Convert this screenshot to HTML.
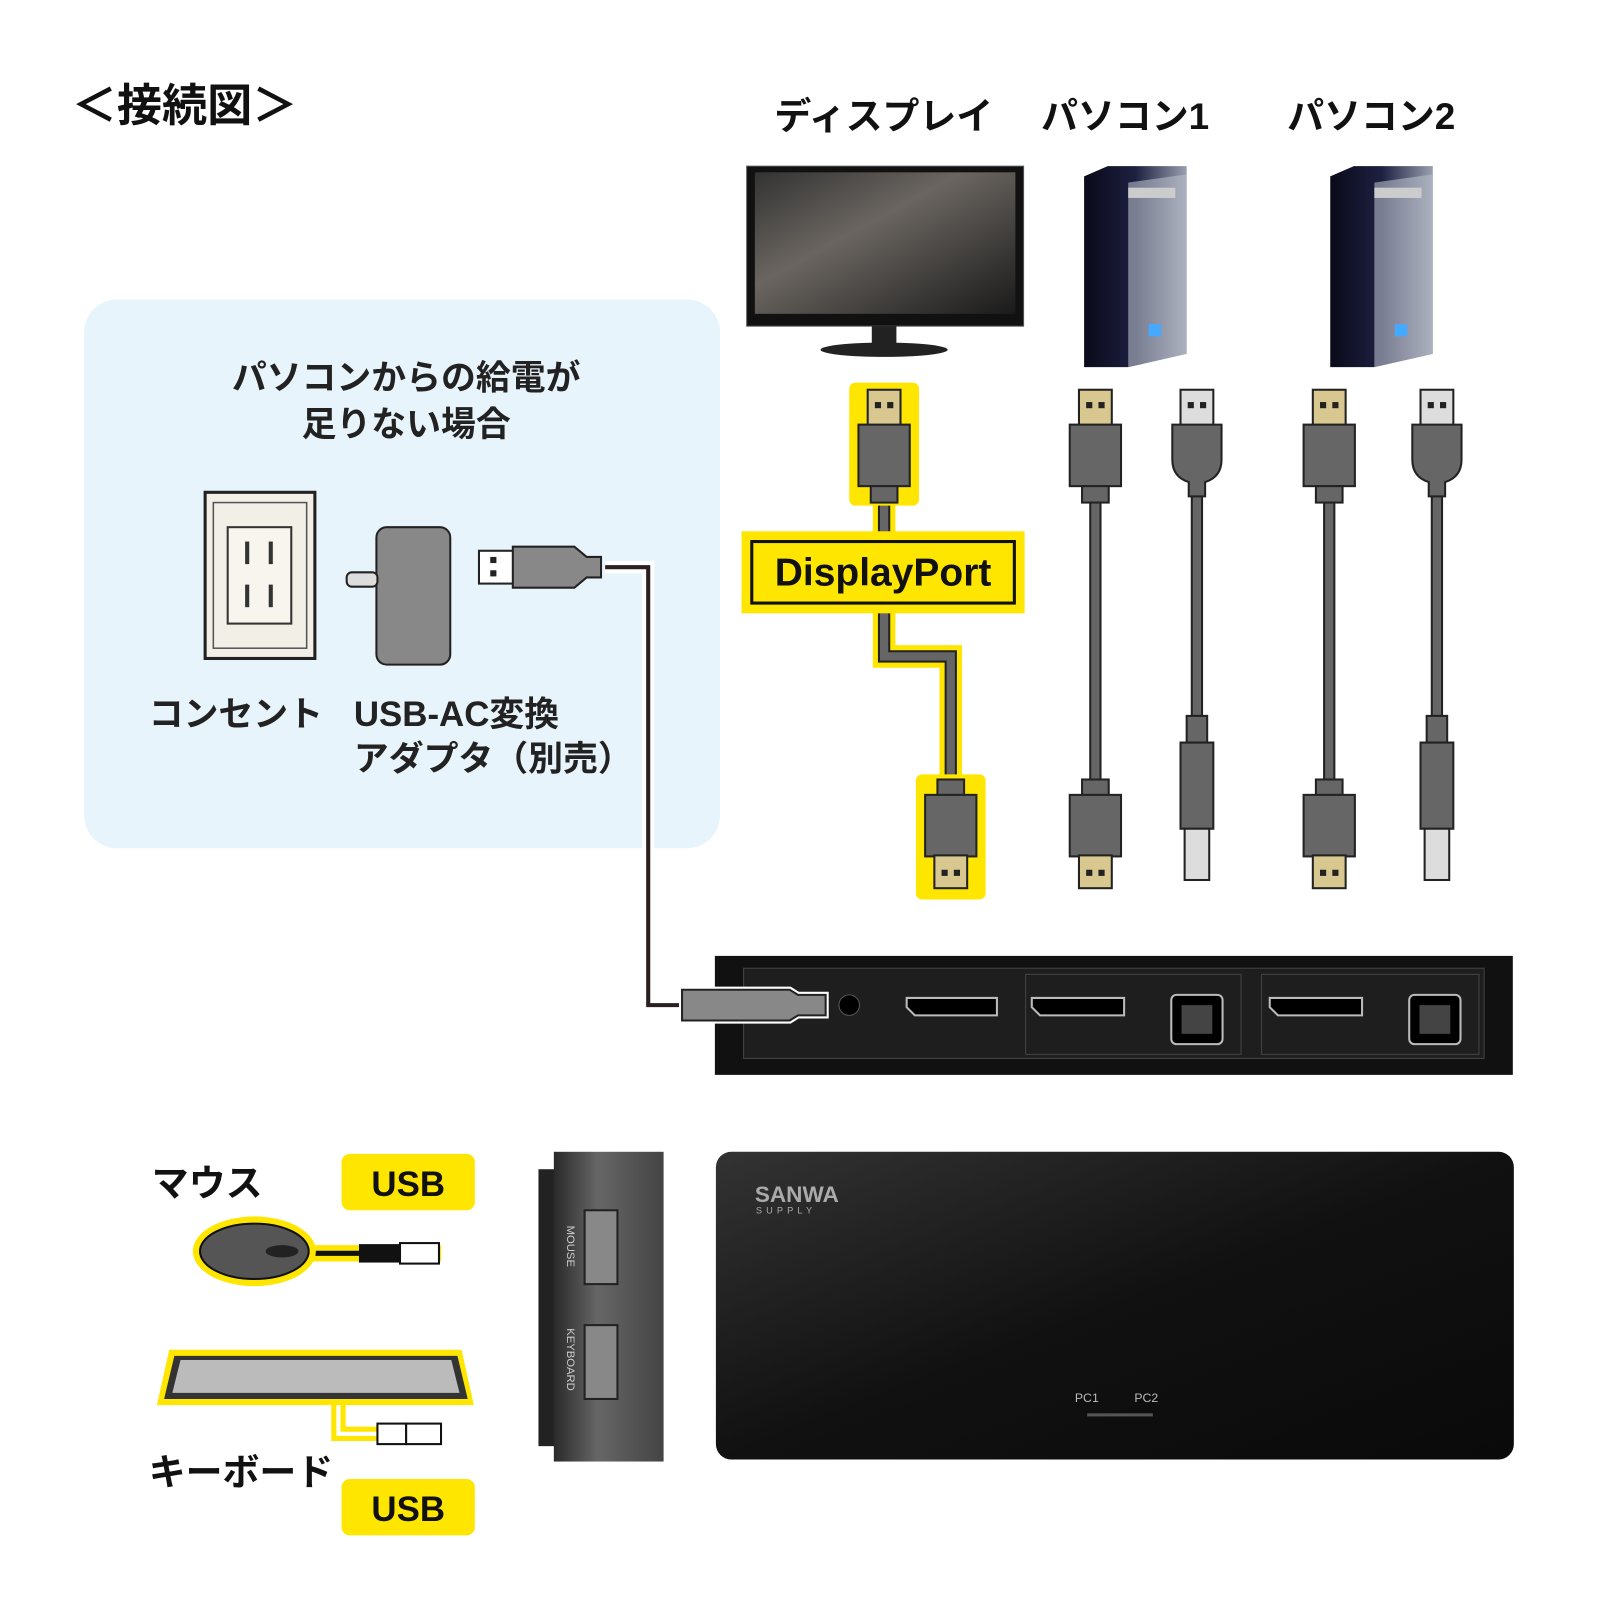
<!DOCTYPE html>
<html><head><meta charset="utf-8"><style>
html,body{margin:0;padding:0;background:#fff;width:1600px;height:1600px;overflow:hidden}
svg{display:block}
text{font-family:"Liberation Sans","Noto Sans CJK JP",sans-serif}
</style></head><body>
<svg width="1600" height="1600" viewBox="0 0 1560 1560" xmlns="http://www.w3.org/2000/svg">
<defs>
<linearGradient id="scr" x1="0" y1="0" x2="1" y2="1"><stop offset="0" stop-color="#333"/><stop offset="0.4" stop-color="#6a6560"/><stop offset="1" stop-color="#1a1a1a"/></linearGradient>
<linearGradient id="pc" x1="0" y1="0" x2="1" y2="0"><stop offset="0" stop-color="#0a0a1a"/><stop offset="0.5" stop-color="#1d2040"/><stop offset="1" stop-color="#9aa0b0"/></linearGradient>
<linearGradient id="top" x1="0" y1="0" x2="1" y2="1"><stop offset="0" stop-color="#333"/><stop offset="0.5" stop-color="#111"/><stop offset="1" stop-color="#0a0a0a"/></linearGradient>
<linearGradient id="side" x1="0" y1="0" x2="1" y2="0"><stop offset="0" stop-color="#2a2a2a"/><stop offset="0.4" stop-color="#666"/><stop offset="1" stop-color="#444"/></linearGradient>
<g id="dpTop"><rect x="-16" y="0" width="32" height="36" fill="#d8c890" stroke="#222" stroke-width="2"/><rect x="-9" y="12" width="6" height="6" fill="#222"/><rect x="3" y="12" width="6" height="6" fill="#222"/><rect x="-25" y="34" width="50" height="60" fill="#666" stroke="#222" stroke-width="2"/><rect x="-13" y="94" width="26" height="16" fill="#666" stroke="#222" stroke-width="2"/></g>
<g id="dpBot"><rect x="-13" y="0" width="26" height="16" fill="#666" stroke="#222" stroke-width="2"/><rect x="-25" y="15" width="50" height="60" fill="#666" stroke="#222" stroke-width="2"/><rect x="-16" y="74" width="32" height="32" fill="#d8c890" stroke="#222" stroke-width="2"/><rect x="-9" y="88" width="6" height="6" fill="#222"/><rect x="3" y="88" width="6" height="6" fill="#222"/></g>
<g id="usbTop"><rect x="-16" y="0" width="32" height="36" fill="#ddd" stroke="#222" stroke-width="2"/><rect x="-9" y="12" width="6" height="6" fill="#222"/><rect x="3" y="12" width="6" height="6" fill="#222"/><path d="M-24 34 H24 V68 Q24 85 8 90 V104 H-8 V90 Q-24 85 -24 68Z" fill="#666" stroke="#222" stroke-width="2"/></g>
<g id="usbBot"><rect x="-10" y="0" width="20" height="26" fill="#666" stroke="#222" stroke-width="2"/><path d="M-16 26 H16 V110 H-16Z" fill="#666" stroke="#222" stroke-width="2"/><rect x="-12" y="110" width="24" height="50" fill="#ddd" stroke="#222" stroke-width="2"/></g>
</defs>

<text x="70" y="118" font-size="44" font-weight="bold" fill="#111">＜接続図＞</text>

<rect x="82" y="292" width="620" height="535" rx="32" fill="#e8f4fb"/>
<text x="396" y="380" font-size="34" font-weight="bold" text-anchor="middle" fill="#222">パソコンからの給電が</text>
<text x="396" y="425" font-size="34" font-weight="bold" text-anchor="middle" fill="#222">足りない場合</text>
<rect x="200" y="480" width="107" height="162" fill="#f2efe6" stroke="#222" stroke-width="3"/>
<rect x="208" y="490" width="91" height="142" fill="none" stroke="#555" stroke-width="1.5"/>
<rect x="222" y="514" width="62" height="94" fill="#f7f5ee" stroke="#333" stroke-width="2"/>
<rect x="239" y="528" width="4" height="22" fill="#333"/><rect x="262" y="528" width="4" height="22" fill="#333"/>
<rect x="239" y="570" width="4" height="22" fill="#333"/><rect x="262" y="570" width="4" height="22" fill="#333"/>
<rect x="367" y="514" width="72" height="134" rx="10" fill="#888" stroke="#222" stroke-width="2"/>
<rect x="338" y="558" width="30" height="14" rx="5" fill="#ddd" stroke="#222" stroke-width="2"/>
<path d="M590 553 H632 V980 H670" fill="none" stroke="#fff" stroke-width="12"/>
<path d="M590 553 H632 V980 H670" fill="none" stroke="#2a2020" stroke-width="4"/>
<rect x="467" y="537" width="34" height="32" fill="#fff" stroke="#222" stroke-width="2"/>
<rect x="478" y="543" width="6" height="6" fill="#222"/><rect x="478" y="556" width="6" height="6" fill="#222"/>
<path d="M500 533 H560 L572 543 H586 V563 H572 L560 573 H500Z" fill="#888" stroke="#222" stroke-width="2"/>
<text x="145" y="708" font-size="34" font-weight="bold" fill="#222">コンセント</text>
<text x="345" y="708" font-size="34" font-weight="bold" fill="#222">USB-AC変換</text>
<text x="345" y="751" font-size="34" font-weight="bold" fill="#222">アダプタ（別売）</text>

<text x="755" y="126" font-size="36" font-weight="bold" fill="#111">ディスプレイ</text>
<text x="1015" y="126" font-size="36" font-weight="bold" fill="#111">パソコン1</text>
<text x="1255" y="126" font-size="36" font-weight="bold" fill="#111">パソコン2</text>

<rect x="728" y="162" width="270" height="156" fill="#111" stroke="#555" stroke-width="1"/>
<rect x="736" y="168" width="254" height="138" fill="url(#scr)"/>
<rect x="850" y="318" width="24" height="18" fill="#222"/>
<ellipse cx="862" cy="341" rx="62" ry="7" fill="#222"/>

<g id="pc1">
<path d="M1057 172 L1080 162 H1157 V345 L1100 358 H1057Z" fill="url(#pc)"/>
<path d="M1100 178 L1157 170 V345 L1100 358Z" fill="#b8bcc8" opacity="0.6"/>
<rect x="1100" y="183" width="46" height="10" fill="#ccc"/>
<rect x="1120" y="316" width="12" height="12" fill="#4af"/>
</g>
<use href="#pc1" x="240"/>

<path d="M862 490 V640 H927 V760" fill="none" stroke="#ffe600" stroke-width="22"/>
<path d="M862 490 V640 H927 V760" fill="none" stroke="#222" stroke-width="12"/>
<path d="M862 490 V640 H927 V760" fill="none" stroke="#666" stroke-width="8"/>
<rect x="828" y="373" width="68" height="120" rx="6" fill="#ffe600"/>
<use href="#dpTop" x="862" y="380"/>
<rect x="893" y="755" width="68" height="122" rx="6" fill="#ffe600"/>
<use href="#dpBot" x="927" y="760"/>
<rect x="723" y="518" width="276" height="80" fill="#ffe600"/>
<rect x="733" y="528" width="256" height="60" fill="#ffe600" stroke="#111" stroke-width="3"/>
<text x="861" y="571" font-size="38" font-weight="bold" text-anchor="middle" fill="#111">DisplayPort</text>

<g stroke="#222" stroke-width="12" fill="none"><path d="M1068 490 V760"/><path d="M1167 482 V700"/><path d="M1296 490 V760"/><path d="M1401 482 V700"/></g>
<g stroke="#666" stroke-width="8" fill="none"><path d="M1068 490 V760"/><path d="M1167 482 V700"/><path d="M1296 490 V760"/><path d="M1401 482 V700"/></g>
<use href="#dpTop" x="1068" y="380"/><use href="#dpBot" x="1068" y="760"/>
<use href="#usbTop" x="1167" y="380"/><use href="#usbBot" x="1167" y="698"/>
<use href="#dpTop" x="1296" y="380"/><use href="#dpBot" x="1296" y="760"/>
<use href="#usbTop" x="1401" y="380"/><use href="#usbBot" x="1401" y="698"/>

<rect x="697" y="932" width="778" height="116" fill="#111"/>
<rect x="725" y="944" width="722" height="88" fill="#1e1e1e" stroke="#444"/>
<rect x="1000" y="950" width="210" height="78" fill="none" stroke="#444"/>
<rect x="1230" y="950" width="212" height="78" fill="none" stroke="#444"/>
<circle cx="828" cy="980" r="10" fill="#000" stroke="#555"/>
<g fill="#000" stroke="#bbb" stroke-width="2"><path d="M884 973 H972 V990 H892 L884 982Z"/><path d="M1006 973 H1096 V990 H1014 L1006 982Z"/><path d="M1238 973 H1328 V990 H1246 L1238 982Z"/><rect x="1142" y="970" width="50" height="48" rx="5"/><rect x="1374" y="970" width="50" height="48" rx="5"/></g>
<rect x="1152" y="980" width="30" height="28" fill="#444"/><rect x="1384" y="980" width="30" height="28" fill="#444"/>
<path d="M665 965 H770 L778 970 H805 V990 H778 L770 995 H665Z" fill="#888" stroke="#fff" stroke-width="6"/>
<path d="M665 965 H770 L778 970 H805 V990 H778 L770 995 H665Z" fill="#888" stroke="#222" stroke-width="2"/>

<text x="148" y="1166" font-size="36" font-weight="bold" fill="#111">マウス</text>
<rect x="333" y="1125" width="130" height="55" rx="8" fill="#ffe600"/>
<text x="398" y="1166" font-size="34" font-weight="bold" text-anchor="middle" fill="#111">USB</text>
<path d="M300 1222 H430" stroke="#ffe600" stroke-width="16"/>
<path d="M300 1222 H350" stroke="#111" stroke-width="5"/>
<rect x="350" y="1213" width="40" height="18" fill="#111"/>
<rect x="390" y="1212" width="38" height="20" fill="#fff" stroke="#111" stroke-width="2"/>
<ellipse cx="248" cy="1220" rx="60" ry="34" fill="#ffe600"/>
<ellipse cx="248" cy="1220" rx="53" ry="27" fill="#555" stroke="#111" stroke-width="2"/>
<ellipse cx="275" cy="1220" rx="16" ry="6" fill="#222"/>
<path d="M330 1368 V1398 H430" fill="none" stroke="#ffe600" stroke-width="14"/>
<path d="M330 1368 V1398 H370" fill="none" stroke="#fff" stroke-width="4"/>
<rect x="368" y="1388" width="28" height="20" fill="#fff" stroke="#111" stroke-width="2"/>
<rect x="396" y="1388" width="34" height="20" fill="#fff" stroke="#111" stroke-width="2"/>
<path d="M165 1316 H450 L462 1370 H153Z" fill="#ffe600"/>
<path d="M170 1322 H446 L456 1364 H160Z" fill="#333"/>
<path d="M176 1326 H440 L448 1358 H168Z" fill="#bbb"/>
<text x="145" y="1448" font-size="36" font-weight="bold" fill="#111">キーボード</text>
<rect x="333" y="1442" width="130" height="55" rx="8" fill="#ffe600"/>
<text x="398" y="1483" font-size="34" font-weight="bold" text-anchor="middle" fill="#111">USB</text>

<rect x="525" y="1140" width="18" height="270" fill="#222"/>
<rect x="540" y="1123" width="107" height="302" fill="url(#side)"/>
<rect x="570" y="1180" width="32" height="72" fill="#888" stroke="#222" stroke-width="2"/>
<rect x="570" y="1292" width="32" height="72" fill="#888" stroke="#222" stroke-width="2"/>
<text transform="translate(553,1195) rotate(90)" font-size="11" fill="#ccc">MOUSE</text>
<text transform="translate(553,1295) rotate(90)" font-size="11" fill="#ccc">KEYBOARD</text>

<rect x="698" y="1123" width="778" height="300" rx="15" fill="url(#top)"/>
<text x="736" y="1172" font-size="22" font-weight="bold" fill="#aaa">SANWA</text>
<text x="737" y="1183" font-size="9" fill="#aaa" letter-spacing="4">SUPPLY</text>
<text x="1048" y="1367" font-size="12" fill="#bbb">PC1</text>
<text x="1106" y="1367" font-size="12" fill="#bbb">PC2</text>
<rect x="1060" y="1378" width="64" height="3" fill="#555"/>
</svg>
</body></html>
